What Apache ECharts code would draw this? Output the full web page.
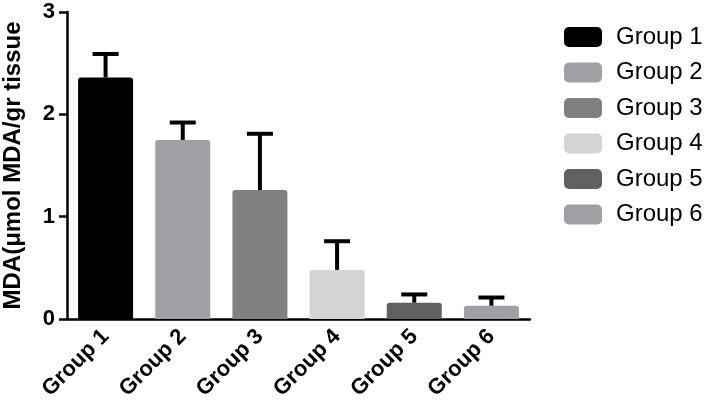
<!DOCTYPE html>
<html>
<head>
<meta charset="utf-8">
<script src="https://cdn.jsdelivr.net/npm/echarts@6/dist/echarts.min.js"></script>
<style>html,body{margin:0;padding:0;background:#fff;}#c{width:704px;height:405px;}</style>
</head>
<body>
<div id="c"></div>
<script>
var categories = ['Group 1', 'Group 2', 'Group 3', 'Group 4', 'Group 5', 'Group 6'];
var means = [2.36, 1.75, 1.26, 0.48, 0.16, 0.13];
var upperErrors = [2.59, 1.92, 1.81, 0.76, 0.24, 0.21];
var colors = ['#000000', '#a0a0a4', '#808080', '#d4d4d4', '#606060', '#a0a0a4'];
var yTicks = [0, 1, 2, 3];

var FONT = '"Liberation Sans", Arial, Helvetica, sans-serif';
var chart = echarts.init(document.getElementById('c'));

var series = categories.map(function (name, i) {
  return {
    name: name,
    type: 'bar',
    barWidth: 55,
    barGap: '-100%',
    itemStyle: { color: colors[i], borderRadius: [3, 3, 0, 0] },
    data: categories.map(function (c, j) { return j === i ? means[j] : '-'; }),
    z: 2
  };
});

series.push({
  type: 'custom',
  name: 'err',
  z: 3,
  data: categories.map(function (c, i) { return [i, means[i], upperErrors[i]]; }),
  renderItem: function (params, api) {
    var x = api.value(0);
    var lo = api.coord([x, api.value(1)]);
    var hi = api.coord([x, api.value(2)]);
    var half = 13;
    var style = { stroke: '#000', lineWidth: 4, fill: null };
    return {
      type: 'group',
      children: [
        { type: 'line', shape: { x1: lo[0], y1: lo[1], x2: hi[0], y2: hi[1] }, style: style },
        { type: 'line', shape: { x1: hi[0] - half, y1: hi[1], x2: hi[0] + half, y2: hi[1] }, style: style }
      ]
    };
  }
});

chart.setOption({
  backgroundColor: '#fff',
  animation: false,
  grid: { left: 67, right: 174, top: 12, bottom: 86, containLabel: false, outerBoundsMode: 'none' },
  legend: {
    data: categories,
    orient: 'vertical',
    left: 559,
    top: 20,
    itemWidth: 38,
    itemHeight: 20,
    itemGap: 11.5,
    icon: 'roundRect',
    textStyle: { fontFamily: FONT, fontSize: 24, color: '#000', padding: [0, 0, 0, 9] }
  },
  xAxis: {
    type: 'category',
    data: categories,
    axisLine: { lineStyle: { color: '#000', width: 2.5 } },
    axisTick: { alignWithLabel: true, length: 7, lineStyle: { color: '#000', width: 2.5 } },
    axisLabel: { rotate: 45, fontFamily: FONT, fontWeight: 'bold', fontSize: 22, color: '#000', margin: 14, interval: 0 }
  },
  yAxis: {
    type: 'value',
    min: yTicks[0],
    max: yTicks[yTicks.length - 1],
    interval: 1,
    name: 'MDA(μmol MDA/gr tissue',
    nameLocation: 'middle',
    nameGap: 42,
    nameTextStyle: { fontFamily: FONT, fontWeight: 'bold', fontSize: 24, color: '#000' },
    axisLine: { show: true, lineStyle: { color: '#000', width: 2.5 } },
    axisTick: { show: true, length: 8, lineStyle: { color: '#000', width: 2.5 } },
    splitLine: { show: false },
    axisLabel: { fontFamily: FONT, fontWeight: 'bold', fontSize: 22, color: '#000', margin: 12 }
  },
  series: series
});
</script>
</body>
</html>
